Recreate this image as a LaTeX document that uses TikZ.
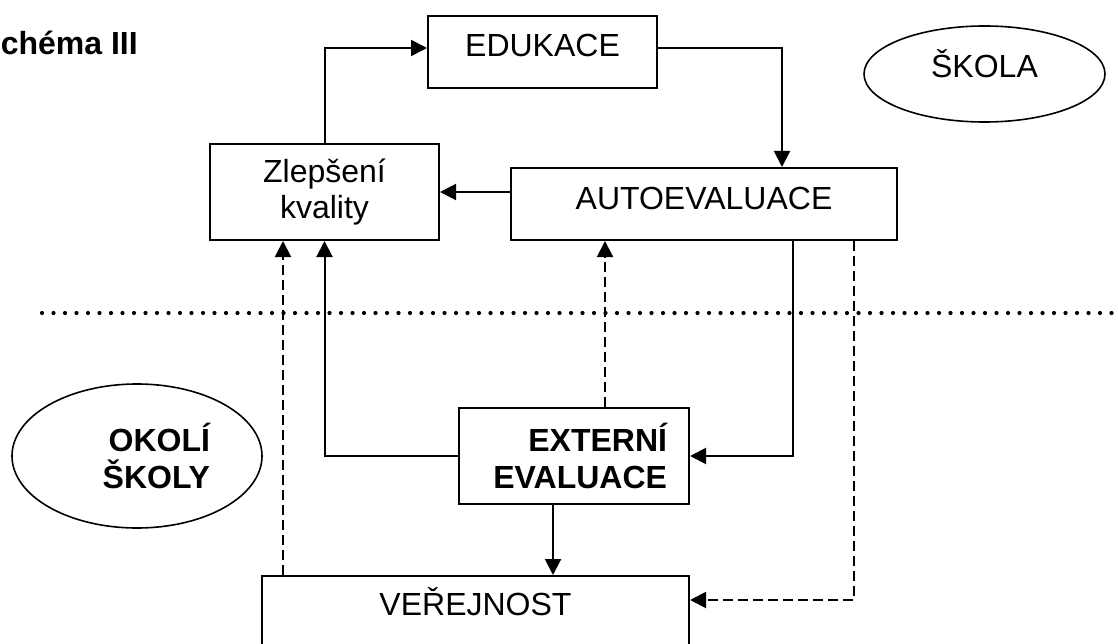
\documentclass[tikz,border=0pt]{standalone}
\usepackage{fontspec}
\setmainfont{Liberation Sans}
\usetikzlibrary{arrows.meta,shapes.geometric,calc}
\begin{document}
\begin{tikzpicture}[x=1pt,y=-1pt,
  every node/.style={font=\fontsize{32}{36}\selectfont, inner sep=0pt},
  boldtext/.style={font=\fontsize{32}{37}\selectfont\bfseries},
  box/.style={draw, line width=2pt, rectangle},
  oval/.style={draw, line width=1.6pt, ellipse},
  arr/.style={line width=2pt, -{Triangle[length=16pt,width=16pt]}},
  darr/.style={arr, dash pattern=on 10pt off 5pt},
  dotline/.style={line width=4.2pt, line cap=round, dash pattern=on 0pt off 11.5pt}]
\useasboundingbox (0,0) rectangle (1118,644);

% title
\node[boldtext, anchor=base east] (title) at (138,55) {Schéma III};

% boxes
\node[box, minimum width=229pt, minimum height=72pt, text height=23pt, text depth=13pt] (edu) at (542.5,52) {EDUKACE};
\node[box, minimum width=229pt, minimum height=96pt, align=center] (zlep) at (324.5,192) {Zlepšení\\kvality};
\node[box, minimum width=386pt, minimum height=72pt, text height=23pt, text depth=11pt] (auto) at (704,204) {AUTOEVALUACE};
\node[box, boldtext, minimum width=230pt, minimum height=96pt, align=right, text width=186pt] (ext) at (574,456) {EXTERNÍ\\EVALUACE};
\node[box, minimum width=427pt, minimum height=80pt, text height=23pt, text depth=25pt] (ver) at (475.5,616) {VEŘEJNOST};

% ellipses
\node[oval, minimum width=241pt, minimum height=96pt, text height=23pt, text depth=15pt] (skola) at (984.5,74) {ŠKOLA};
\node[oval, boldtext, minimum width=250pt, minimum height=144pt, align=right, text width=146pt] (okoli) at (137,456) {OKOLÍ\\ŠKOLY};

% dotted border
\coordinate (dotL) at (42,313);
\coordinate (dotR) at (1122,313);
\draw[dotline] (dotL) -- (dotR);

% solid connectors
\draw[arr] (zlep.north) |- ([yshift=4pt]edu.west);
\coordinate (a0) at ([xshift=78pt]auto.north);
\draw[arr] ([yshift=4pt]edu.east) -| (a0);
\draw[arr] (auto.west |- zlep.east) -- (zlep.east);
\coordinate (a1) at ([xshift=89pt]auto.south);
\draw[arr] (a1) |- (ext.east);
\draw[arr] (ext.west) -| (zlep.south);
\coordinate (e2) at ([xshift=-21pt]ext.south);
\draw[arr] (e2) -- (e2 |- ver.north);

% dashed connectors
\coordinate (e1) at ([xshift=31pt]ext.north);
\draw[darr] (e1) -- (e1 |- auto.south);
\coordinate (a2) at ([xshift=150pt]auto.south);
\draw[darr] (a2) |- ([yshift=16pt]ver.east);
\coordinate (v1) at ([xshift=-192.5pt]ver.north);
\draw[darr] (v1) -- (v1 |- zlep.south);
\end{tikzpicture}
\end{document}
